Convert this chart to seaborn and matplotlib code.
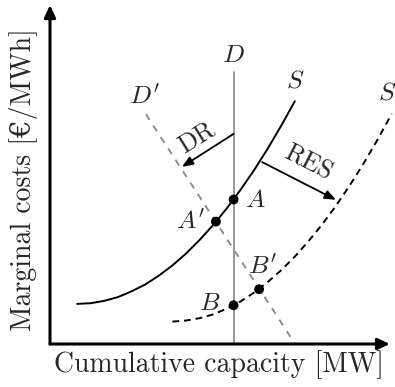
import matplotlib
matplotlib.use("Agg")
import matplotlib.pyplot as plt
import seaborn as sns
import pandas as pd

# Supply curve before renewables (S)
supply_x = [0.8, 1.2, 1.6, 2.0, 2.4, 2.8, 3.2, 3.6, 4.0, 4.4, 4.8, 5.2, 5.6, 6.0, 6.4, 6.8, 7.2]
supply_y = [1.18, 1.20, 1.27, 1.38, 1.55, 1.75, 2.01, 2.31, 2.66, 3.06, 3.50, 3.99, 4.53, 5.11, 5.74, 6.42, 7.14]

# Supply curve with renewables (S, dashed)
supply_res_x = [3.6, 4.0, 4.4, 4.8, 5.2, 5.6, 6.0, 6.4, 6.8, 7.2, 7.6, 8.0, 8.4, 8.8, 9.2, 9.6, 10.05]
supply_res_y = [0.66, 0.69, 0.76, 0.87, 1.04, 1.25, 1.51, 1.82, 2.17, 2.57, 3.02, 3.51, 4.05, 4.64, 5.27, 5.95, 6.77]

# Inelastic demand D and responsive demand D'
demand_x = [5.4, 5.4]
demand_y = [0.0, 8.0]
demand_dr_x = [2.82, 7.21]
demand_dr_y = [6.76, 0.0]

# Market equilibria
eq_names = ["A", "A'", "B", "B'"]
eq_x = [5.4, 4.88, 5.4, 6.15]
eq_y = [4.25, 3.60, 1.14, 1.61]

sns.set_theme(style="white")
plt.rcParams["mathtext.fontset"] = "cm"
plt.rcParams["font.family"] = ["cmr10", "DejaVu Serif"]
plt.rcParams["axes.unicode_minus"] = False

fig = plt.figure(figsize=(3.95, 3.87), dpi=100)
ax = fig.add_axes([50 / 395, 43 / 387, 340 / 395, 340 / 387])
ax.set_xlim(0, 10)
ax.set_ylim(0, 10)
ax.axis("off")

df_s = pd.DataFrame({"x": supply_x, "y": supply_y})
df_r = pd.DataFrame({"x": supply_res_x, "y": supply_res_y})
df_d = pd.DataFrame({"x": demand_x, "y": demand_y})
df_dr = pd.DataFrame({"x": demand_dr_x, "y": demand_dr_y})
df_eq = pd.DataFrame({"x": eq_x, "y": eq_y, "name": eq_names})

sns.lineplot(data=df_d, x="x", y="y", ax=ax, color="#999999", lw=1.4,
             sort=False, estimator=None, clip_on=False)
sns.lineplot(data=df_dr, x="x", y="y", ax=ax, color="#8c8c8c", lw=1.4,
             sort=False, estimator=None, clip_on=False,
             linestyle=(0, (3.5, 3.5)))
sns.lineplot(data=df_s, x="x", y="y", ax=ax, color="black", lw=1.4,
             sort=False, estimator=None, clip_on=False)
sns.lineplot(data=df_r, x="x", y="y", ax=ax, color="black", lw=1.4,
             sort=False, estimator=None, clip_on=False,
             linestyle=(0, (3.5, 2.5)))
sns.scatterplot(data=df_eq, x="x", y="y", ax=ax, color="black", s=50,
                edgecolor="none", zorder=5, clip_on=False)

# Axes with arrow heads
axis_arrow = dict(arrowstyle="-|>,head_length=0.6,head_width=0.28",
                  color="black", lw=2.2, shrinkA=0, shrinkB=0)
ax.annotate("", xy=(10.0, 0), xytext=(0, 0), arrowprops=axis_arrow,
            annotation_clip=False)
ax.annotate("", xy=(0, 9.97), xytext=(0, 0), arrowprops=axis_arrow,
            annotation_clip=False)

# Shift arrows
shift_arrow = dict(arrowstyle="-|>,head_length=0.55,head_width=0.22",
                   color="black", lw=1.3, shrinkA=0, shrinkB=0)
ax.annotate("", xy=(3.88, 5.21), xytext=(5.4, 6.18), arrowprops=shift_arrow)
ax.annotate("", xy=(8.41, 4.24), xytext=(6.24, 5.35), arrowprops=shift_arrow)

lab = dict(fontsize=18.5, ha="center", va="center")
ax.text(4.32, 6.06, "DR", rotation=32, **lab)
ax.text(7.59, 5.32, "RES", rotation=-27, **lab)

ax.text(5.4, 8.5, r"$D$", **lab)
ax.text(2.79, 7.26, r"$D'$", **lab)
ax.text(7.2, 7.76, r"$S$", **lab)
ax.text(9.91, 7.38, r"$S$", **lab)
ax.text(6.03, 4.24, r"$A$", **lab)
ax.text(4.12, 3.59, r"$A'$", **lab)
ax.text(4.71, 1.21, r"$B$", **lab)
ax.text(6.24, 2.26, r"$B'$", **lab)

fig.text(219 / 395, 1 - 365 / 387, "Cumulative capacity [MW]",
         fontsize=20, ha="center", va="center")
fig.text(24 / 395, 1 - 180 / 387, "Marginal costs [€/MWh]",
         fontsize=20, ha="center", va="center", rotation=90)

fig.savefig("out.png", dpi=100)
